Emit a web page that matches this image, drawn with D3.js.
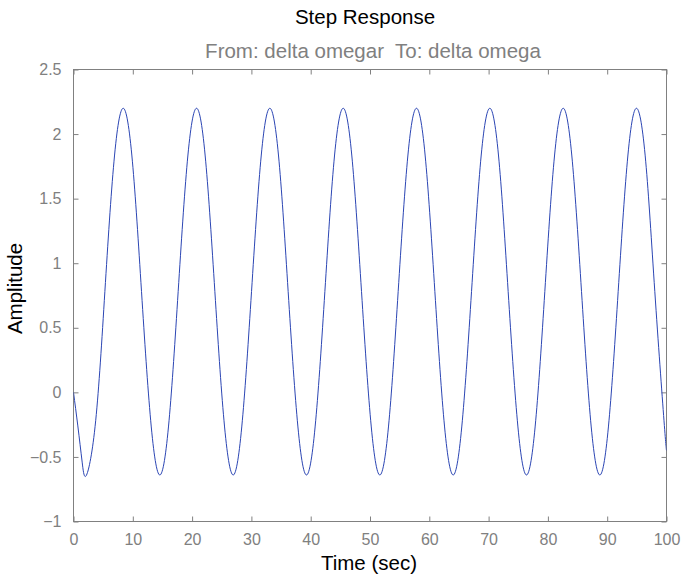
<!DOCTYPE html>
<html>
<head>
<meta charset="utf-8">
<script src="https://cdn.jsdelivr.net/npm/d3@7"></script>
<style>
  html, body { margin: 0; padding: 0; background: #fff; }
  svg { display: block; font-family: "Liberation Sans", Arial, Helvetica, sans-serif; }
  text { white-space: pre; }
</style>
</head>
<body>
<svg id="chart" width="684" height="579"></svg>
<script>
// Step response samples (time in seconds, amplitude)
const timeSec = [
  0, 0.73, 1.46,
  2.20, 3.74, 5.29, 6.83, 8.38, 9.93, 11.47, 13.02,
  14.56, 16.11, 17.65, 19.20, 20.75, 22.29, 23.84, 25.38,
  26.93, 28.47, 30.02, 31.57, 33.11, 34.66, 36.20, 37.75,
  39.29, 40.84, 42.39, 43.93, 45.48, 47.02, 48.57, 50.12,
  51.66, 53.21, 54.75, 56.30, 57.84, 59.39, 60.94, 62.48,
  64.03, 65.57, 67.12, 68.66, 70.21, 71.76, 73.30, 74.85,
  76.39, 77.94, 79.48, 81.03, 82.58, 84.12, 85.67, 87.21,
  88.76, 90.30, 91.85, 93.40, 94.94, 96.49, 98.03, 99.58,
  100
];
const amplitude = [
  0, -0.26, -0.54,
  -0.64, -0.22, 0.78, 1.79, 2.20, 1.79, 0.78, -0.22,
  -0.64, -0.22, 0.78, 1.79, 2.20, 1.79, 0.78, -0.22,
  -0.64, -0.22, 0.78, 1.79, 2.20, 1.79, 0.78, -0.22,
  -0.64, -0.22, 0.78, 1.79, 2.20, 1.79, 0.78, -0.22,
  -0.64, -0.22, 0.78, 1.79, 2.20, 1.79, 0.78, -0.22,
  -0.64, -0.22, 0.78, 1.79, 2.20, 1.79, 0.78, -0.22,
  -0.64, -0.22, 0.78, 1.79, 2.20, 1.79, 0.78, -0.22,
  -0.64, -0.22, 0.78, 1.79, 2.20, 1.79, 0.78, -0.22,
  -0.45
];
const xTicks = [0, 10, 20, 30, 40, 50, 60, 70, 80, 90, 100];
const yTicks = [-1, -0.5, 0, 0.5, 1, 1.5, 2, 2.5];
const titleText = "Step Response";
const subtitleText = "From: delta omegar  To: delta omega";
const xLabelText = "Time (sec)";
const yLabelText = "Amplitude";

const svg = d3.select("#chart");
const plot = { left: 73.5, right: 666.5, top: 69.5, bottom: 521.5 };
const axisGray = "#808080";
const lineBlue = "#2b45b3";

const x = d3.scaleLinear().domain([0, 100]).range([plot.left, plot.right]);
const y = d3.scaleLinear().domain([-1, 2.5]).range([plot.bottom, plot.top]);
const fmt = d3.format("~g");
const tickLen = 5;

// Frame box
svg.append("rect")
  .attr("x", plot.left).attr("y", plot.top)
  .attr("width", plot.right - plot.left).attr("height", plot.bottom - plot.top)
  .attr("fill", "none").attr("stroke", axisGray).attr("stroke-width", 1);

// Bottom and left axes with labels; ticks point inward
const xAxis = d3.axisBottom(x).tickValues(xTicks).tickFormat(fmt).tickSizeInner(-tickLen).tickSizeOuter(0).tickPadding(12);
const yAxis = d3.axisLeft(y).tickValues(yTicks).tickFormat(fmt).tickSizeInner(-tickLen).tickSizeOuter(0).tickPadding(12);
// Top and right mirrored tick marks without labels
const xTop = d3.axisTop(x).tickValues(xTicks).tickFormat("").tickSizeInner(-tickLen).tickSizeOuter(0);
const yRight = d3.axisRight(y).tickValues(yTicks).tickFormat("").tickSizeInner(-tickLen).tickSizeOuter(0);

function styleAxis(g) {
  g.select(".domain").remove();
  g.selectAll(".tick line").attr("stroke", axisGray);
  g.selectAll(".tick text").attr("fill", axisGray).style("font-size", "16px")
    .style("font-family", '"Liberation Sans", Arial, sans-serif');
}

svg.append("g").attr("transform", `translate(0,${plot.bottom})`).call(xAxis).call(styleAxis);
svg.append("g").attr("transform", `translate(${plot.left},0)`).call(yAxis).call(styleAxis);
svg.append("g").attr("transform", `translate(0,${plot.top})`).call(xTop).call(styleAxis);
svg.append("g").attr("transform", `translate(${plot.right},0)`).call(yRight).call(styleAxis);

// Response curve
const pts = timeSec.map((t, i) => [t, amplitude[i]]);
svg.append("defs").append("clipPath").attr("id", "plotClip")
  .append("rect").attr("x", plot.left).attr("y", plot.top)
  .attr("width", plot.right - plot.left).attr("height", plot.bottom - plot.top);
svg.append("path")
  .datum(pts)
  .attr("clip-path", "url(#plotClip)")
  .attr("fill", "none")
  .attr("stroke", lineBlue)
  .attr("stroke-width", 1)
  .attr("d", d3.line().x(d => x(d[0])).y(d => y(d[1])).curve(d3.curveNatural));

// Titles and axis labels
const cx = (plot.left + plot.right) / 2;
svg.append("text").attr("x", cx - 5).attr("y", 24).attr("text-anchor", "middle")
  .attr("fill", "#000").style("font-size", "20.5px").text(titleText);
svg.append("text").attr("x", cx + 3).attr("y", 58).attr("text-anchor", "middle")
  .attr("fill", axisGray).style("font-size", "20.5px").text(subtitleText);
svg.append("text").attr("x", cx - 1).attr("y", 570).attr("text-anchor", "middle")
  .attr("fill", "#000").style("font-size", "20.5px").text(xLabelText);
svg.append("text").attr("transform", `translate(22,${(plot.top + plot.bottom) / 2 - 7}) rotate(-90)`)
  .attr("text-anchor", "middle").attr("fill", "#000").style("font-size", "20.5px").text(yLabelText);
</script>
</body>
</html>
